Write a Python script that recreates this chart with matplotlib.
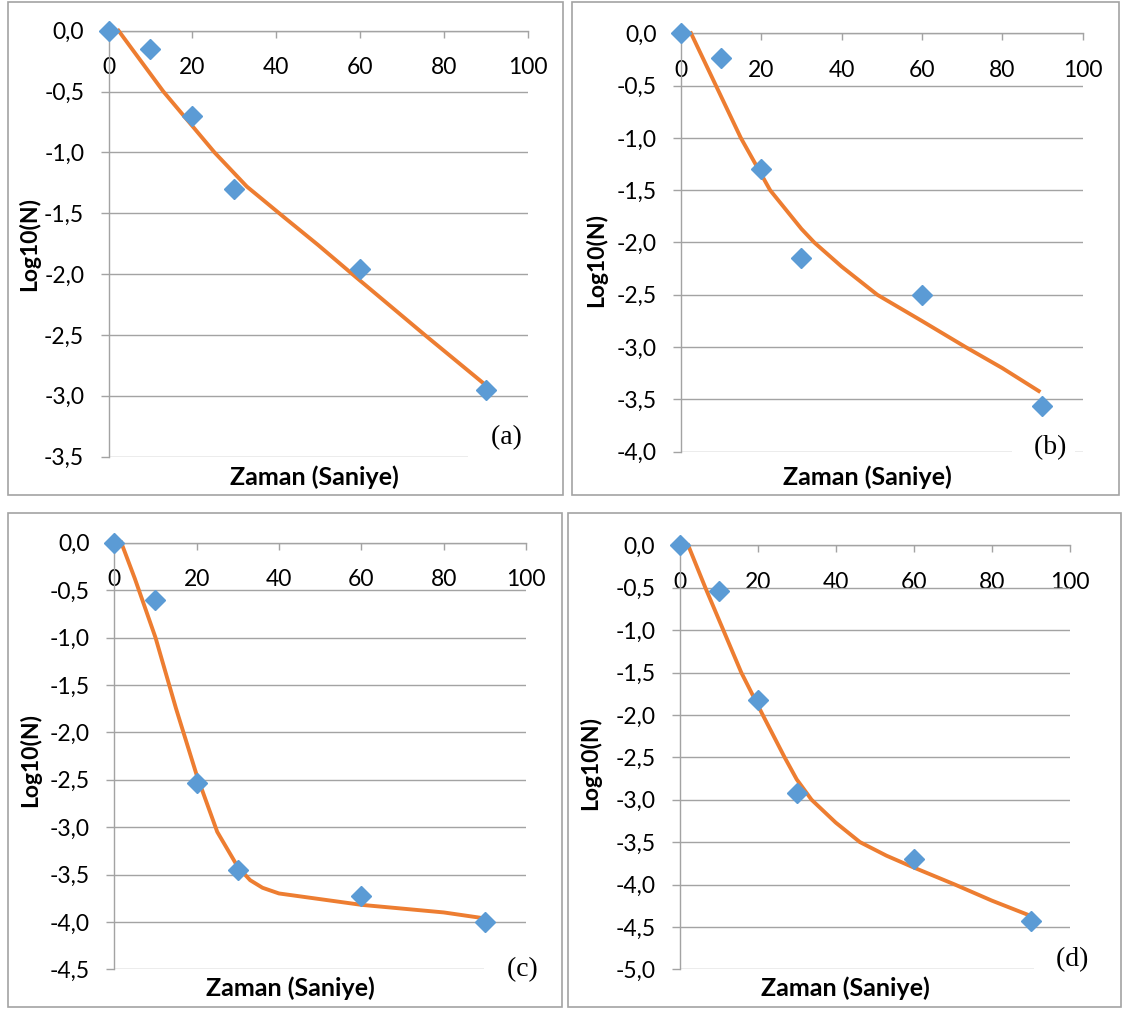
import numpy as np
import matplotlib
matplotlib.use("Agg")
import matplotlib.pyplot as plt
from matplotlib.patches import Rectangle
from matplotlib.ticker import FuncFormatter

plt.rcParams['font.family'] = ['Lato', 'DejaVu Sans']

# Veriler (ölçülen noktalar)
zaman = [0, 10, 20, 30, 60, 90]
log_a = [0, -0.15, -0.70, -1.30, -1.96, -2.95]
log_b = [0, -0.24, -1.30, -2.15, -2.50, -3.56]
log_c = [0, -0.60, -2.54, -3.45, -3.73, -4.00]
log_d = [0, -0.535, -1.82, -2.92, -3.70, -4.43]

# Model eğrileri
fit_a_x = [2.4, 13.1, 25.3, 33, 41.8, 50, 58.2, 75.5, 89.6]
fit_a_y = [0, -0.50, -1.00, -1.28, -1.53, -1.76, -2.00, -2.50, -2.90]
fit_b_x = [2.5, 8.7, 14.9, 22.2, 30, 33.2, 40, 48.9, 60, 70.9, 80, 89.1]
fit_b_y = [0, -0.50, -1.00, -1.50, -1.87, -2.00, -2.23, -2.50, -2.75, -3.00, -3.20, -3.42]
fit_c_x = [1.7, 5, 10, 15, 20, 25, 30, 33, 36, 40, 50, 60, 70, 80, 89.5]
fit_c_y = [0, -0.38, -1.00, -1.75, -2.45, -3.05, -3.42, -3.56, -3.64, -3.70, -3.76, -3.82, -3.86, -3.90, -3.96]
fit_d_x = [2.2, 6.6, 11.2, 15.8, 21.3, 26.9, 30, 33.8, 40, 46.2, 53, 60, 70.5, 80, 90.5]
fit_d_y = [0, -0.5, -1.0, -1.5, -2.0, -2.5, -2.76, -3.0, -3.27, -3.5, -3.66, -3.80, -4.0, -4.19, -4.38]

y_min = [-3.5, -4.0, -4.5, -5.0]
etiketler = ["(a)", "(b)", "(c)", "(d)"]

W, H = 1123, 1009
mavi = '#5B9BD5'
turuncu = '#ED7D31'
gri = '#A3A3A3'

fig = plt.figure(figsize=(W / 100, H / 100), dpi=100)

def fr(x0, y0, x1, y1):
    return [x0 / W, 1 - y1 / H, (x1 - x0) / W, (y1 - y0) / H]

# yerlesim (piksel)
kutular = [(8, 2, 563, 495), (572, 2, 1119, 495), (8, 513, 562, 1007), (568, 513, 1121, 1007)]
eksenler = [(108.5, 30.7, 527.5, 456.7), (681, 33.3, 1082.5, 451.7),
            (114.3, 542.7, 526, 969.3), (679.6, 545.3, 1069.9, 969.3)]
ylab_pos = [(29, 244), (596, 260), (30, 760), (590, 763)]
xlab_pos = [(314, 477), (867, 477), (290, 988), (845, 988)]
harf_pos = [(505, 438), (1050, 448), (521, 970), (1072, 960)]

olcum = [log_a, log_b, log_c, log_d]
fitx = [fit_a_x, fit_b_x, fit_c_x, fit_d_x]
fity = [fit_a_y, fit_b_y, fit_c_y, fit_d_y]

fmt = FuncFormatter(lambda v, _: f"{round(v, 1) + 0.0:.1f}".replace('.', ','))

for i in range(4):
    k = kutular[i]
    fig.add_artist(Rectangle((k[0] / W, 1 - k[3] / H), (k[2] - k[0]) / W, (k[3] - k[1]) / H,
                             transform=fig.transFigure, fill=False, ec=gri, lw=1.2))
    ax = fig.add_axes(fr(*eksenler[i]))
    ax.set_xlim(0, 100)
    ax.set_ylim(y_min[i], 0)
    ax.set_xticks(range(0, 101, 20))
    ax.set_yticks(np.arange(y_min[i], 0.01, 0.5))
    ax.yaxis.set_major_formatter(fmt)
    ax.grid(axis='y', color=gri, lw=1.0)
    ax.set_axisbelow(True)
    for s in ['right', 'bottom']:
        ax.spines[s].set_visible(False)
    for s in ['top', 'left']:
        ax.spines[s].set_color(gri)
        ax.spines[s].set_linewidth(1.0)
    ax.tick_params(axis='x', top=True, bottom=False, labeltop=True, labelbottom=False,
                   direction='in', length=5, width=1, color=gri, pad=-34, labelsize=16.5)
    ax.tick_params(axis='y', direction='out', length=5.5, width=1, color=gri, pad=12, labelsize=16.5)

    ax.plot(fitx[i], fity[i], color=turuncu, lw=2.8, zorder=3, clip_on=False,
            solid_joinstyle='round')
    ax.plot(zaman, olcum[i], 'D', color=mavi, ms=10, mec=mavi, zorder=4, clip_on=False)

    fig.text(ylab_pos[i][0] / W, 1 - ylab_pos[i][1] / H, "Log10(N)", rotation=90,
             ha='center', va='center', fontsize=16.5, fontweight='bold')
    fig.text(xlab_pos[i][0] / W, 1 - xlab_pos[i][1] / H, "Zaman (Saniye)",
             ha='center', va='center', fontsize=18, fontweight='bold')
    fig.text((harf_pos[i][0] + 16.5) / W, 1 - harf_pos[i][1] / H, "  " + etiketler[i],
             ha='right', va='center', fontsize=20, family='Liberation Serif',
             bbox=dict(boxstyle='square,pad=0.3', fc='white', ec='none'))

fig.savefig("out.png", dpi=100)
